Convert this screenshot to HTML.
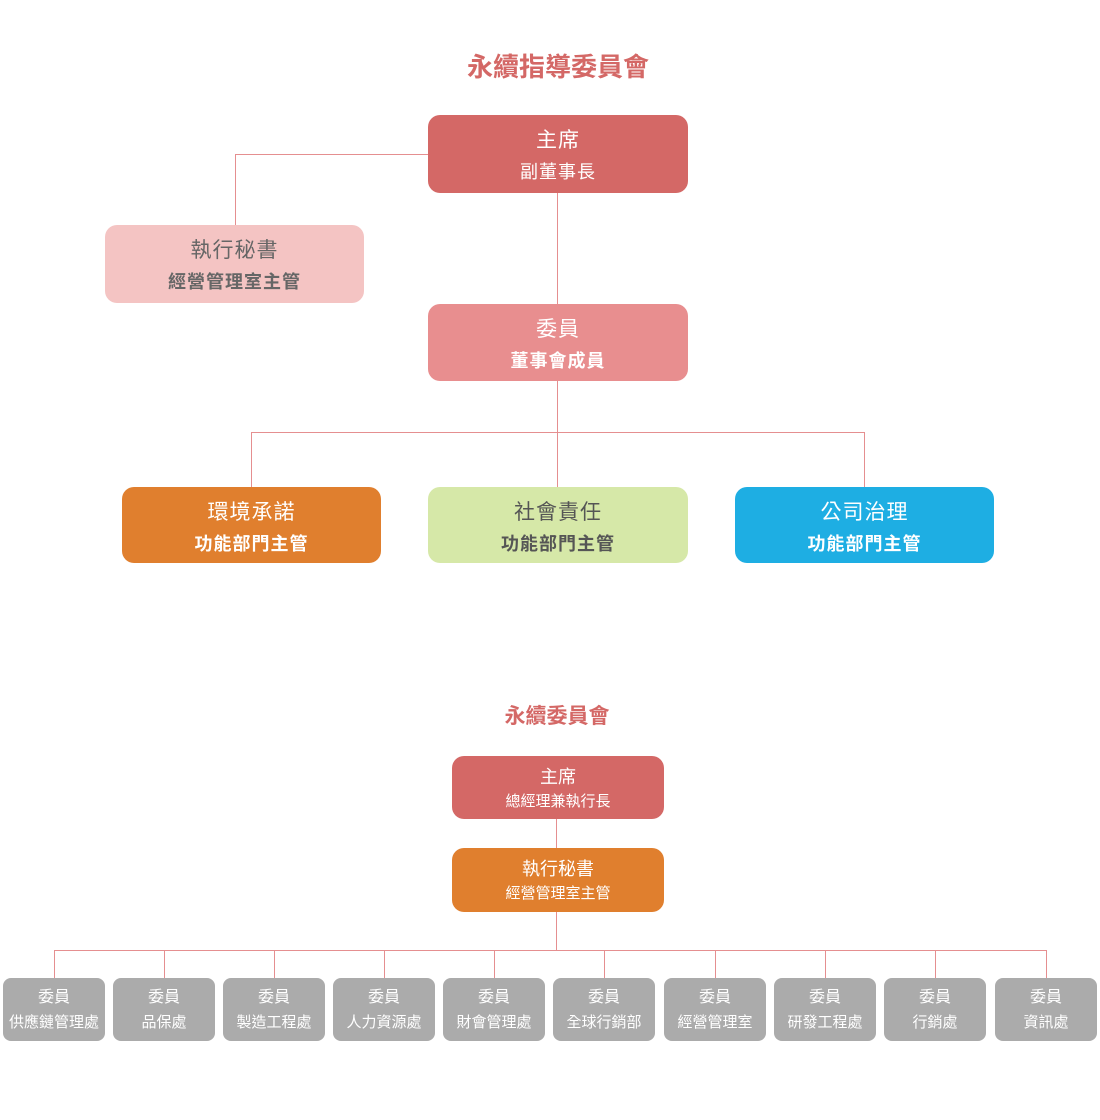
<!DOCTYPE html>
<html><head><meta charset="utf-8"><style>
body{margin:0;width:1100px;height:1120px;background:#fff;position:relative;overflow:hidden;font-family:"Liberation Sans","Noto Sans CJK TC",sans-serif;}
.b{position:absolute;border-radius:12px;color:#fff;text-align:center;box-sizing:border-box;}
.l{position:absolute;background:#e58f90;}
.t{position:absolute;left:0;width:1100px;text-align:center;color:#d46866;font-weight:bold;}
.big .a{font-size:21px;line-height:24px;margin-top:14px;letter-spacing:1px;}
.big .c{font-size:18px;line-height:22px;margin-top:8px;font-weight:bold;letter-spacing:1px;}
.mid .a{font-size:18px;line-height:20px;margin-top:11px;}
.mid .c{font-size:15px;line-height:18px;margin-top:6px;}
.sm{background:#ababab;border-radius:8px;width:102px;top:978px;height:63px;}
.sm .a{font-size:16px;line-height:18px;margin-top:11px;}
.sm .c{font-size:15px;line-height:18px;margin-top:7px;white-space:nowrap;}
</style></head><body>
<div class="t" style="top:47px;font-size:26px;left:8px">永續指導委員會</div>
<div class="l" style="left:236px;top:154px;width:192px;height:1px"></div>
<div class="l" style="left:235px;top:154px;width:1px;height:72px"></div>
<div class="l" style="left:557px;top:192px;width:1px;height:113px"></div>
<div class="l" style="left:557px;top:380px;width:1px;height:108px"></div>
<div class="l" style="left:251px;top:432px;width:614px;height:1px"></div>
<div class="l" style="left:251px;top:432px;width:1px;height:56px"></div>
<div class="l" style="left:864px;top:432px;width:1px;height:56px"></div>

<div class="b big" style="left:428px;top:115px;width:260px;height:78px;background:#d46866"><div class="a">主席</div><div class="c" style="font-weight:normal">副董事長</div></div>
<div class="b big" style="left:105px;top:225px;width:259px;height:78px;background:#f4c4c3;color:#666"><div class="a">執行秘書</div><div class="c">經營管理室主管</div></div>
<div class="b big" style="left:428px;top:304px;width:260px;height:77px;background:#e88e8f"><div class="a">委員</div><div class="c">董事會成員</div></div>
<div class="b big" style="left:122px;top:487px;width:259px;height:76px;background:#e07f2e"><div class="a">環境承諾</div><div class="c">功能部門主管</div></div>
<div class="b big" style="left:428px;top:487px;width:260px;height:76px;background:#d6e8a8;color:#555"><div class="a">社會責任</div><div class="c">功能部門主管</div></div>
<div class="b big" style="left:735px;top:487px;width:259px;height:76px;background:#1eaee3"><div class="a">公司治理</div><div class="c">功能部門主管</div></div>

<div class="t" style="top:700px;font-size:21px;left:7px">永續委員會</div>
<div class="l" style="left:556px;top:818px;width:1px;height:31px"></div>
<div class="l" style="left:556px;top:911px;width:1px;height:40px"></div>
<div class="l" style="left:54px;top:950px;width:993px;height:1px"></div>
<div class="b mid" style="left:452px;top:756px;width:212px;height:63px;background:#d46866"><div class="a">主席</div><div class="c">總經理兼執行長</div></div>
<div class="b mid" style="left:452px;top:848px;width:212px;height:64px;background:#e07f2e"><div class="a">執行秘書</div><div class="c">經營管理室主管</div></div>

<div class="l" style="left:54px;top:950px;width:1px;height:28px"></div>
<div class="l" style="left:164px;top:950px;width:1px;height:28px"></div>
<div class="l" style="left:274px;top:950px;width:1px;height:28px"></div>
<div class="l" style="left:384px;top:950px;width:1px;height:28px"></div>
<div class="l" style="left:494px;top:950px;width:1px;height:28px"></div>
<div class="l" style="left:604px;top:950px;width:1px;height:28px"></div>
<div class="l" style="left:715px;top:950px;width:1px;height:28px"></div>
<div class="l" style="left:825px;top:950px;width:1px;height:28px"></div>
<div class="l" style="left:935px;top:950px;width:1px;height:28px"></div>
<div class="l" style="left:1046px;top:950px;width:1px;height:28px"></div>

<div class="b sm" style="left:3px"><div class="a">委員</div><div class="c">供應鏈管理處</div></div>
<div class="b sm" style="left:113px"><div class="a">委員</div><div class="c">品保處</div></div>
<div class="b sm" style="left:223px"><div class="a">委員</div><div class="c">製造工程處</div></div>
<div class="b sm" style="left:333px"><div class="a">委員</div><div class="c">人力資源處</div></div>
<div class="b sm" style="left:443px"><div class="a">委員</div><div class="c">財會管理處</div></div>
<div class="b sm" style="left:553px"><div class="a">委員</div><div class="c">全球行銷部</div></div>
<div class="b sm" style="left:664px"><div class="a">委員</div><div class="c">經營管理室</div></div>
<div class="b sm" style="left:774px"><div class="a">委員</div><div class="c">研發工程處</div></div>
<div class="b sm" style="left:884px"><div class="a">委員</div><div class="c">行銷處</div></div>
<div class="b sm" style="left:995px"><div class="a">委員</div><div class="c">資訊處</div></div>
</body></html>
